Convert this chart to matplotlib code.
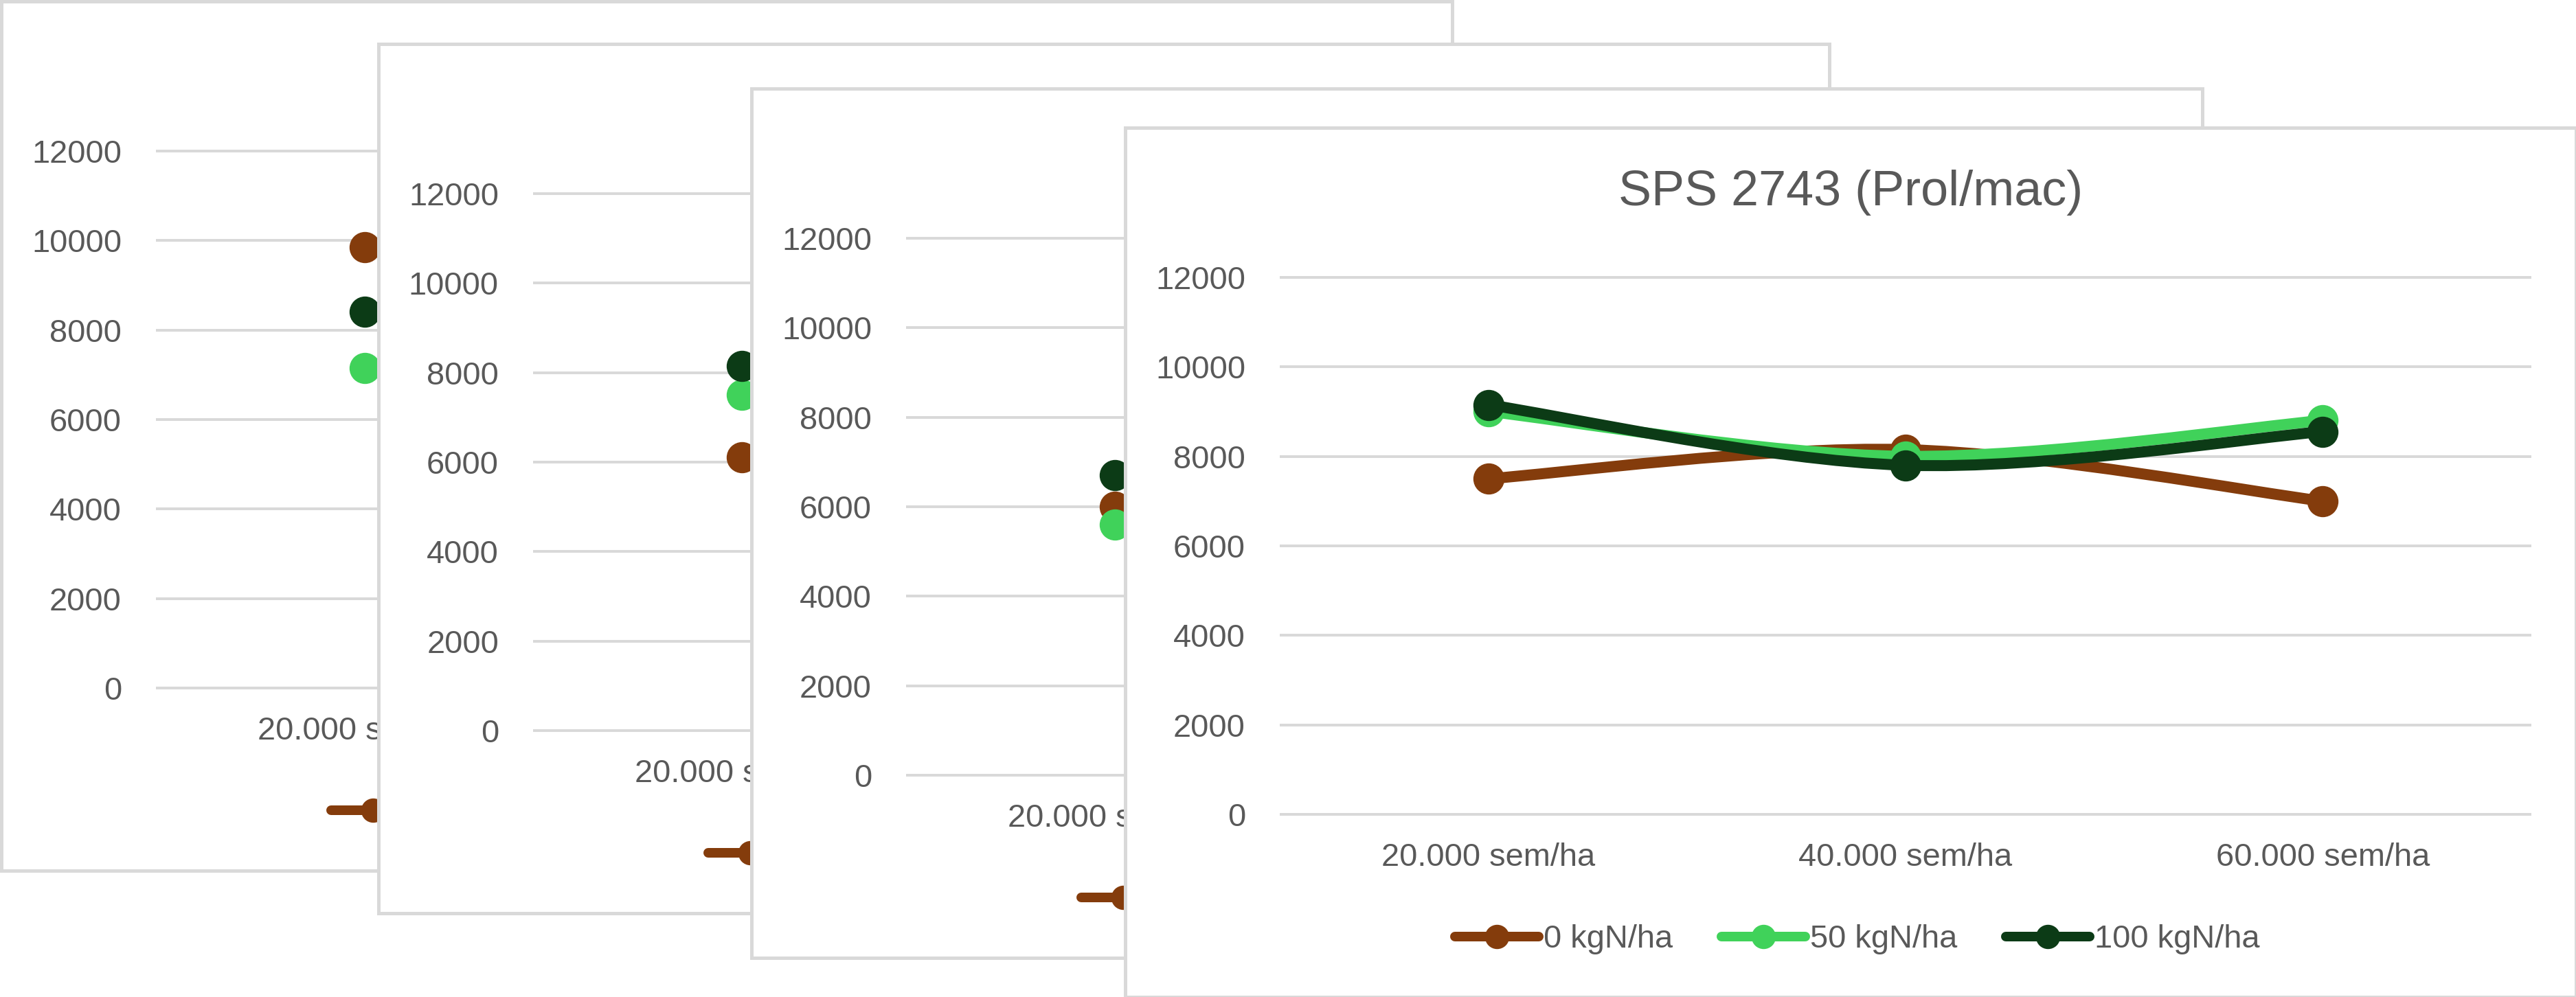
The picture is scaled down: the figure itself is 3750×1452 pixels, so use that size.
import matplotlib.pyplot as plt
import numpy as np
from matplotlib.lines import Line2D
from matplotlib.path import Path
from matplotlib.patches import PathPatch

plt.rcParams['font.family'] = ['Liberation Sans', 'DejaVu Sans']

title = 'SPS 2743 (Prol/mac)'
categories = ['20.000 sem/ha', '40.000 sem/ha', '60.000 sem/ha']
series_labels = ['0 kgN/ha', '50 kgN/ha', '100 kgN/ha']
yticks = [0, 2000, 4000, 6000, 8000, 10000, 12000]

# the three charts behind: only the first category is visible
back_n0 = [9850, 6100, 6000]
back_n50 = [7150, 7500, 5600]
back_n100 = [8400, 8150, 6700]

# front chart
front_n0 = [7500, 8150, 7000]
front_n50 = [9000, 8000, 8800]
front_n100 = [9150, 7800, 8550]

colors = ['#843c0c', '#40d25a', '#0c3b16']
grey = '#d9d9d9'
text_col = '#595959'

W, H = 3750, 1452
fig = plt.figure(figsize=(W / 100, H / 100), dpi=100)
fig.patch.set_facecolor('white')


def rect(x, y, w, h):
    # pixel box (top-left origin) -> figure fraction
    return [x / W, 1 - (y + h) / H, w / W, h / H]


def smooth_path(xs, ys):
    # excel-like smoothed line (catmull-rom as cubic bezier)
    pts = np.column_stack([xs, ys]).astype(float)
    n = len(pts)
    verts = [pts[0]]
    codes = [Path.MOVETO]
    for i in range(n - 1):
        p0 = pts[max(i - 1, 0)]
        p1 = pts[i]
        p2 = pts[i + 1]
        p3 = pts[min(i + 2, n - 1)]
        verts += [p1 + (p2 - p0) / 6, p2 - (p3 - p1) / 6, p2]
        codes += [Path.CURVE4] * 3
    return Path(verts, codes)


PW, PH = 2112, 1266
offsets = [(2, 2), (551, 64), (1094, 129), (1638, 186)]
px = 0.72  # points per pixel at dpi 100
fs = 47 * px
positions = np.arange(len(categories))

for k, (ox, oy) in enumerate(offsets):
    box = fig.add_axes(rect(ox, oy, PW, PH), zorder=2 * k)
    box.set_facecolor('white')
    box.set_xticks([])
    box.set_yticks([])
    for sp in box.spines.values():
        sp.set_color(grey)
        sp.set_linewidth(5 * px)

    ax = fig.add_axes(rect(ox + 225, oy + 215, 1822, 788), zorder=2 * k + 1)
    ax.patch.set_visible(False)
    ax.set_xlim(-0.5, 2.5)
    ax.set_ylim(-40, 12040)
    ax.set_yticks(yticks)
    ax.set_xticks(positions, categories)
    ax.grid(axis='y', color=grey, linewidth=4 * px)
    ax.set_axisbelow(True)
    for sp in ax.spines.values():
        sp.set_visible(False)
    ax.tick_params(axis='both', length=0, labelsize=fs, colors=text_col)
    ax.tick_params(axis='y', pad=50 * px)
    ax.tick_params(axis='x', pad=38 * px)

    if k < 3:
        data = [[back_n0[k]], [back_n50[k]], [back_n100[k]]]
    else:
        data = [front_n0, front_n50, front_n100]

    for j, vals in enumerate(data):
        xs = positions[:len(vals)]
        if len(vals) > 1:
            ax.add_patch(PathPatch(smooth_path(xs, vals), facecolor='none',
                                   edgecolor=colors[j], linewidth=16 * px,
                                   capstyle='round', joinstyle='round',
                                   zorder=3 + j))
        ax.plot(xs, vals, linestyle='none', marker='o', markersize=44 * px,
                color=colors[j], zorder=3 + j)

    handles = [Line2D([], [], color=c, linewidth=14 * px, marker='o',
                      markersize=34 * px, solid_capstyle='round')
               for c in colors]
    ax.legend(handles, series_labels, loc='center',
              bbox_to_anchor=((1066 - 225) / 1822, -(1182 - 1003) / 788),
              ncol=3, frameon=False, fontsize=fs, labelcolor=text_col,
              handlelength=2.6, handletextpad=0.15, columnspacing=1.5)

    if k == 3:
        box.text(0.5, 1 - 94 / PH, title, transform=box.transAxes,
                 ha='center', va='center', fontsize=72 * px, color=text_col)

plt.savefig('out.png', dpi=100, facecolor='white')
